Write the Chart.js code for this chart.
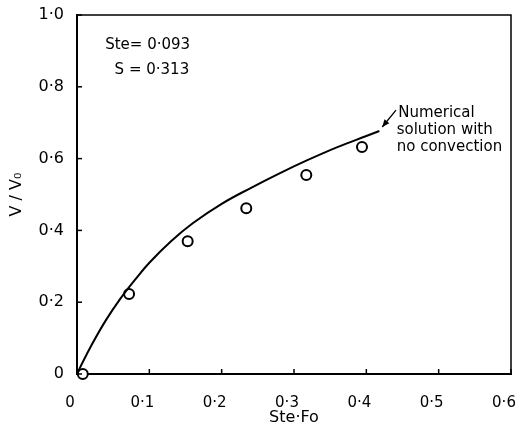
<!DOCTYPE html>
<html>
<head>
<meta charset="utf-8">
<script src="https://cdn.jsdelivr.net/npm/chart.js@4"></script>
<style>
  html, body { margin: 0; padding: 0; background: #fff; }
  #wrap { width: 519px; height: 437px; }
</style>
</head>
<body>
<div id="wrap"><canvas id="chart" width="519" height="437"></canvas></div>
<script>
// numerical solution (no convection)
const curveX = [0, 0.004, 0.02, 0.04, 0.06, 0.08, 0.10, 0.13, 0.16, 0.20, 0.24, 0.28, 0.32, 0.36, 0.40, 0.418];
const curveY = [0, 0.017, 0.08, 0.15, 0.21, 0.262, 0.31, 0.37, 0.42, 0.474, 0.518, 0.559, 0.597, 0.632, 0.663, 0.677];

// experimental points (open circles)
const expX = [0.008, 0.072, 0.153, 0.234, 0.317, 0.394];
const expY = [0.0, 0.223, 0.370, 0.462, 0.554, 0.632];

const xTicks = [0, 0.1, 0.2, 0.3, 0.4, 0.5, 0.6];
const yTicks = [0, 0.2, 0.4, 0.6, 0.8, 1.0];

const FONT = "DejaVu Sans";

function fmt(v) {
  if (Math.abs(v) < 1e-9) return "0";
  return v.toFixed(1).replace(".", "\u00b7");
}

// text placed in data coordinates
const notes = [
  { x: 0.039, y: 0.916, text: "Ste= 0\u00b7093", size: 15 },
  { x: 0.052, y: 0.847, text: "S = 0\u00b7313", size: 15 },
  { x: 0.444, y: 0.727, text: "Numerical", size: 15 },
  { x: 0.442, y: 0.680, text: "solution with", size: 15 },
  { x: 0.442, y: 0.632, text: "no convection", size: 15 }
];

// box, inward ticks, annotations and arrow
const decor = {
  id: "decor",
  afterDatasetsDraw(chart) {
    const ctx = chart.ctx;
    const xs = chart.scales.x, ys = chart.scales.y;
    const a = chart.chartArea;
    ctx.save();
    ctx.strokeStyle = "#000";
    ctx.lineWidth = 1.5;
    ctx.beginPath();
    ctx.moveTo(a.left, a.top);
    ctx.lineTo(a.right, a.top);
    ctx.lineTo(a.right, a.bottom);
    ctx.stroke();

    xTicks.forEach(v => {
      const px = xs.getPixelForValue(v);
      ctx.beginPath();
      ctx.moveTo(px, a.bottom);
      ctx.lineTo(px, a.bottom - 5);
      ctx.stroke();
    });
    yTicks.forEach(v => {
      const py = ys.getPixelForValue(v);
      ctx.beginPath();
      ctx.moveTo(a.left, py);
      ctx.lineTo(a.left + 5, py);
      ctx.stroke();
    });

    ctx.fillStyle = "#000";
    ctx.textBaseline = "middle";
    ctx.textAlign = "left";
    notes.forEach(n => {
      ctx.font = n.size + "px '" + FONT + "'";
      ctx.fillText(n.text, xs.getPixelForValue(n.x), ys.getPixelForValue(n.y));
    });

    // arrow from the label to the end of the curve
    const x0 = xs.getPixelForValue(0.441), y0 = ys.getPixelForValue(0.735);
    const x1 = xs.getPixelForValue(0.422), y1 = ys.getPixelForValue(0.688);
    ctx.lineWidth = 1.3;
    ctx.beginPath();
    ctx.moveTo(x0, y0);
    ctx.lineTo(x1, y1);
    ctx.stroke();
    const ang = Math.atan2(y1 - y0, x1 - x0);
    const L = 8, w = 0.4;
    ctx.beginPath();
    ctx.moveTo(x1, y1);
    ctx.lineTo(x1 - L * Math.cos(ang - w), y1 - L * Math.sin(ang - w));
    ctx.lineTo(x1 - L * Math.cos(ang + w), y1 - L * Math.sin(ang + w));
    ctx.closePath();
    ctx.fill();
    ctx.restore();
  }
};

new Chart(document.getElementById("chart"), {
  type: "scatter",
  data: {
    datasets: [
      {
        label: "Numerical solution",
        data: curveX.map((x, i) => ({ x: x, y: curveY[i] })),
        showLine: true,
        borderColor: "#000",
        borderWidth: 2,
        pointRadius: 0,
        tension: 0.4,
        fill: false
      },
      {
        label: "Experiment",
        data: expX.map((x, i) => ({ x: x, y: expY[i] })),
        showLine: false,
        pointStyle: "circle",
        pointRadius: 5,
        pointBorderWidth: 2,
        pointBorderColor: "#000",
        pointBackgroundColor: "#fff",
        clip: false
      }
    ]
  },
  options: {
    responsive: false,
    animation: false,
    devicePixelRatio: 1,
    layout: { padding: { top: 15, right: 8, left: 0, bottom: 0 } },
    plugins: {
      legend: { display: false },
      tooltip: { enabled: false }
    },
    scales: {
      x: {
        type: "linear",
        min: 0,
        max: 0.6,
        afterFit: s => { s.height = 63; s.paddingLeft = 0; s.paddingRight = 0; },
        afterBuildTicks: s => { s.ticks = xTicks.map(v => ({ value: v })); },
        grid: { display: false, drawTicks: false },
        border: { display: true, color: "#000", width: 2 },
        ticks: {
          padding: 20,
          labelOffset: -7,
          color: "#000",
          font: { family: FONT, size: 15 },
          callback: v => fmt(v)
        },
        title: {
          display: true,
          text: "Ste\u00b7Fo",
          color: "#000",
          font: { family: FONT, size: 16 },
          padding: { top: 0, bottom: 10 }
        }
      },
      y: {
        type: "linear",
        min: 0,
        max: 1.0,
        afterFit: s => { s.width = 77; s.paddingTop = 0; s.paddingBottom = 0; },
        afterBuildTicks: s => { s.ticks = yTicks.map(v => ({ value: v })); },
        grid: { display: false, drawTicks: false },
        border: { display: true, color: "#000", width: 2 },
        ticks: {
          padding: 13,
          color: "#000",
          font: { family: FONT, size: 16 },
          callback: v => fmt(v)
        },
        title: {
          display: true,
          text: "V / V\u2080",
          color: "#000",
          font: { family: FONT, size: 16 },
          padding: { top: 7, bottom: 0 }
        }
      }
    }
  },
  plugins: [decor]
});
</script>
</body>
</html>
